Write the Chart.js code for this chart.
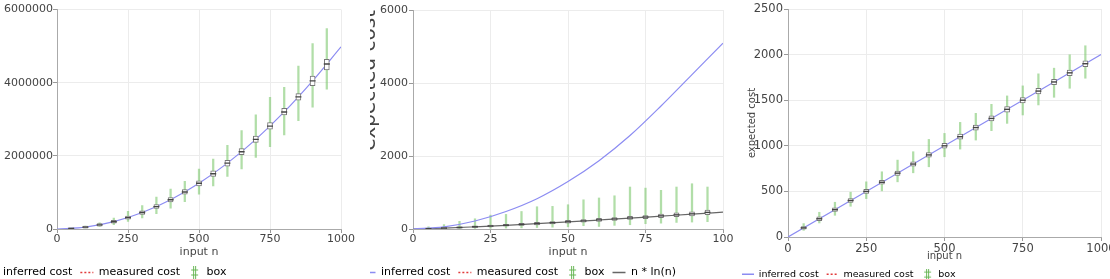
<!DOCTYPE html>
<html>
<head>
<meta charset="utf-8">
<script src="https://cdn.jsdelivr.net/npm/chart.js@4/dist/chart.umd.min.js"></script>
<style>
  html, body { margin: 0; padding: 0; background: #fff; overflow: hidden; }
  body { position: relative; width: 1110px; height: 279px; }
  .clip { position: absolute; top: 0; width: 370px; height: 279px; overflow: hidden; }
  canvas { position: absolute; top: 0; }
</style>
</head>
<body>
<div class="clip" style="left:0"><canvas id="chart1" width="395" height="288" style="left:-25px"></canvas></div>
<div class="clip" style="left:370px"><canvas id="chart2" width="390" height="288" style="left:-20px"></canvas></div>
<div class="clip" style="left:740px"><canvas id="chart3" width="390" height="289" style="left:-6px"></canvas></div>
<script>
// ---- panel 1: quadratic cost, n up to 1000 ----
const n1 = [50, 100, 150, 200, 250, 300, 350, 400, 450, 500, 550, 600, 650, 700, 750, 800, 850, 900, 950];
const median1 = [12000, 50000, 112000, 200000, 312000, 450000, 612000, 800000, 1012000, 1250000, 1512000, 1800000, 2112000, 2450000, 2812000, 3200000, 3612000, 4050000, 4510000];
const boxLow1 = [0, 20000, 80000, 160000, 270000, 400000, 560000, 740000, 950000, 1180000, 1440000, 1720000, 2030000, 2370000, 2730000, 3120000, 3520000, 3920000, 4350000];
const boxHigh1 = [30000, 80000, 150000, 240000, 350000, 500000, 670000, 860000, 1080000, 1320000, 1590000, 1880000, 2200000, 2540000, 2910000, 3300000, 3700000, 4180000, 4640000];
const whiskLow1 = [5000, 30000, 70000, 120000, 210000, 300000, 420000, 570000, 750000, 950000, 1180000, 1440000, 1640000, 1960000, 2250000, 2570000, 2960000, 3330000, 3820000];
const whiskHigh1 = [25000, 80000, 170000, 300000, 480000, 640000, 870000, 1090000, 1300000, 1640000, 1910000, 2290000, 2690000, 3120000, 3600000, 3870000, 4450000, 5070000, 5480000];
const curveN1 = [0, 100, 200, 300, 400, 500, 600, 700, 800, 900, 1000];
const inferred1 = [0, 50000, 200000, 450000, 800000, 1250000, 1800000, 2450000, 3200000, 4050000, 4980000];
const xTicks1 = [0, 250, 500, 750, 1000];
const yTicks1 = [0, 2000000, 4000000, 6000000];

// ---- panel 2: n up to 100, against n * ln(n) ----
const n2 = [5, 10, 15, 20, 25, 30, 35, 40, 45, 50, 55, 60, 65, 70, 75, 80, 85, 90, 95];
const median2 = [10, 25, 42, 62, 82, 103, 125, 148, 172, 198, 222, 250, 275, 302, 328, 360, 388, 415, 455];
const boxLow2 = [0, 10, 25, 40, 55, 75, 95, 115, 140, 160, 185, 210, 235, 260, 285, 310, 335, 360, 390];
const boxHigh2 = [20, 40, 60, 85, 110, 130, 155, 180, 205, 235, 260, 290, 315, 345, 370, 410, 440, 470, 520];
const whiskLow2 = [0, 5, 10, 15, 20, 25, 30, 40, 50, 60, 90, 70, 100, 117, 145, 160, 180, 190, 200];
const whiskHigh2 = [60, 120, 210, 280, 380, 400, 480, 610, 620, 665, 800, 850, 910, 1150, 1120, 1060, 1150, 1240, 1150];
const curveN2 = [0, 10, 20, 30, 40, 50, 60, 70, 80, 90, 100];
const inferred2 = [0, 60, 220, 480, 830, 1300, 1870, 2560, 3370, 4230, 5090];
const nlogn2 = [0, 23, 60, 102, 148, 196, 246, 297, 351, 405, 461];
const xTicks2 = [0, 25, 50, 75, 100];
const yTicks2 = [0, 2000, 4000, 6000];

// ---- panel 3: linear cost, n up to 1000 ----
const n3 = [50, 100, 150, 200, 250, 300, 350, 400, 450, 500, 550, 600, 650, 700, 750, 800, 850, 900, 950];
const median3 = [100, 200, 300, 400, 500, 600, 700, 800, 900, 1000, 1100, 1200, 1300, 1400, 1500, 1600, 1700, 1800, 1900];
const boxLow3 = [85, 180, 280, 380, 478, 578, 676, 776, 874, 974, 1072, 1172, 1272, 1370, 1470, 1570, 1670, 1770, 1868];
const boxHigh3 = [115, 220, 320, 420, 522, 622, 724, 824, 926, 1026, 1128, 1228, 1328, 1430, 1530, 1630, 1730, 1830, 1932];
const whiskLow3 = [73, 154, 238, 337, 421, 506, 605, 704, 770, 880, 964, 1063, 1166, 1246, 1338, 1448, 1532, 1631, 1741];
const whiskHigh3 = [147, 271, 381, 491, 605, 715, 843, 935, 1070, 1136, 1257, 1356, 1455, 1547, 1657, 1789, 1851, 1998, 2097];
const curveN3 = [0, 500, 1000];
const inferred3 = [0, 1000, 2000];
const xTicks3 = [0, 250, 500, 750, 1000];
const yTicks3 = [0, 500, 1000, 1500, 2000, 2500];

const FONT = 'DejaVu Sans';
const BLUE = '#8c8cf2';
const RED = '#e23b3b';
const GREEN = 'rgba(125,200,110,0.6)';
const GREY = '#666';

function pairs(xs, ys) {
    return xs.map((x, i) => ({ x: x, y: ys[i] }));
}

function ranges(xs, lo, hi) {
    return xs.map((x, i) => ({ x: x, y: [lo[i], hi[i]] }));
}

// little green glyph used by the "box" legend entry
function boxGlyph(h) {
    const c = document.createElement('canvas');
    c.width = 9;
    c.height = h;
    const g = c.getContext('2d');
    g.strokeStyle = 'rgba(100,180,80,0.95)';
    g.lineWidth = 1;
    g.beginPath();
    g.moveTo(3.5, 0); g.lineTo(3.5, h);
    g.moveTo(5.5, 0); g.lineTo(5.5, h);
    g.moveTo(1, h / 2 - 2.5); g.lineTo(8, h / 2 - 2.5);
    g.moveTo(1, h / 2 + 2.5); g.lineTo(8, h / 2 + 2.5);
    g.stroke();
    return c;
}

function legendItems(withNlogn, glyphH) {
    const items = [
        { text: 'inferred cost', pointStyle: 'line', strokeStyle: BLUE, fillStyle: BLUE, lineWidth: 1.3, lineDash: [] },
        { text: 'measured cost', pointStyle: 'line', strokeStyle: RED, fillStyle: RED, lineWidth: 1.5, lineDash: [2, 2] },
        { text: 'box', pointStyle: boxGlyph(glyphH), strokeStyle: GREEN, fillStyle: GREEN, lineWidth: 1, lineDash: [] }
    ];
    if (withNlogn) {
        items.push({ text: 'n * ln(n)', pointStyle: 'line', strokeStyle: GREY, fillStyle: GREY, lineWidth: 1.3, lineDash: [] });
    }
    return items.map(it => Object.assign({ hidden: false, datasetIndex: 0 }, it));
}

// Function to build one panel
function createPanel(canvasId, p) {
    const datasets = [
        { type: 'scatter', data: pairs(p.n, p.median), pointStyle: 'line', pointRadius: p.boxW / 2 + 0.5,
          pointBorderColor: '#444', pointBorderWidth: 1.4, showLine: false, order: 0 },
        { type: 'bar', data: ranges(p.n, p.boxLow, p.boxHigh), backgroundColor: '#fff', borderColor: '#777',
          borderWidth: 1, borderSkipped: false, barThickness: p.boxW, grouped: false, order: 1 },
        { type: 'line', data: pairs(p.curveN, p.inferred), borderColor: BLUE, borderWidth: 1.2,
          pointRadius: 0, cubicInterpolationMode: 'monotone', order: 2 },
        { type: 'line', data: [], borderColor: RED, borderDash: [2, 2], borderWidth: 1.5, pointRadius: 0, order: 3 },
        { type: 'bar', data: ranges(p.n, p.whiskLow, p.whiskHigh), backgroundColor: GREEN,
          barThickness: 1.6, grouped: false, order: 5 }
    ];
    if (p.nlogn) {
        datasets.push({ type: 'line', data: pairs(p.curveN, p.nlogn), borderColor: GREY, borderWidth: 1.2,
            pointRadius: 0, cubicInterpolationMode: 'monotone', order: 4 });
    }

    new Chart(document.getElementById(canvasId), {
        type: 'bar',
        data: { datasets: datasets },
        options: {
            responsive: false,
            animation: false,
            events: [],
            layout: { padding: p.pad },
            plugins: {
                tooltip: { enabled: false },
                legend: {
                    position: 'bottom',
                    align: 'start',
                    labels: {
                        usePointStyle: true,
                        pointStyleWidth: p.legendBox,
                        padding: 8,
                        color: '#333',
                        font: { family: FONT, size: p.legendSize },
                        generateLabels: () => legendItems(!!p.nlogn, p.legendSize + 2)
                    }
                }
            },
            scales: {
                x: {
                    type: 'linear',
                    offset: false,
                    min: p.xTicks[0],
                    max: p.xTicks[p.xTicks.length - 1],
                    afterBuildTicks: s => { s.ticks = p.xTicks.map(v => ({ value: v })); },
                    afterFit: s => { s.height = p.xAxisH; },
                    grid: { offset: false, color: '#ececec', tickColor: '#999', tickLength: 4 },
                    border: { color: '#aaa' },
                    ticks: { color: '#444', padding: p.xTickPad, maxRotation: 0, font: { family: FONT, size: p.tickSize },
                             callback: v => String(v) },
                    title: { display: true, text: 'input n', color: '#444', padding: { top: 0, bottom: p.xTitlePad },
                             font: { family: FONT, size: p.titleSize } }
                },
                y: {
                    type: 'linear',
                    min: p.yTicks[0],
                    max: p.yTicks[p.yTicks.length - 1],
                    afterBuildTicks: s => { s.ticks = p.yTicks.map(v => ({ value: v })); },
                    afterFit: s => { s.width = p.yAxisW; },
                    grid: { color: '#ececec', tickColor: '#999', tickLength: 4 },
                    border: { color: '#aaa' },
                    ticks: { color: '#444', padding: p.yTickPad, font: { family: FONT, size: p.tickSize },
                             callback: v => String(v) },
                    title: { display: true, text: 'expected cost', color: '#444', align: p.yTitleAlign,
                             padding: { top: p.yTitlePad, bottom: 0 },
                             font: { family: FONT, size: p.yTitleSize } }
                }
            }
        }
    });
}

createPanel('chart1', {
    n: n1, median: median1, boxLow: boxLow1, boxHigh: boxHigh1, whiskLow: whiskLow1, whiskHigh: whiskHigh1,
    curveN: curveN1, inferred: inferred1, xTicks: xTicks1, yTicks: yTicks1,
    pad: { left: 1.5, right: 29, top: 9.5, bottom: 0 }, yAxisW: 80.5, xAxisH: 30, boxW: 5,
    tickSize: 11, titleSize: 11, yTitleSize: 11, legendSize: 11, legendBox: 13,
    xTickPad: 0, yTickPad: 0, xTitlePad: 0, yTitlePad: 10, yTitleAlign: 'center'
});

createPanel('chart2', {
    n: n2, median: median2, boxLow: boxLow2, boxHigh: boxHigh2, whiskLow: whiskLow2, whiskHigh: whiskHigh2,
    curveN: curveN2, inferred: inferred2, nlogn: nlogn2, xTicks: xTicks2, yTicks: yTicks2,
    pad: { left: 4.5, right: 17, top: 10, bottom: 0 }, yAxisW: 58.5, xAxisH: 30, boxW: 5,
    tickSize: 11, titleSize: 11, yTitleSize: 20, legendSize: 11, legendBox: 13,
    xTickPad: 0, yTickPad: 1, xTitlePad: 0, yTitlePad: 3, yTitleAlign: 'end'
});

createPanel('chart3', {
    n: n3, median: median3, boxLow: boxLow3, boxHigh: boxHigh3, whiskLow: whiskLow3, whiskHigh: whiskHigh3,
    curveN: curveN3, inferred: inferred3, xTicks: xTicks3, yTicks: yTicks3,
    pad: { left: 0, right: 23, top: 9, bottom: 0 }, yAxisW: 54, xAxisH: 24.5, boxW: 5,
    tickSize: 11.5, titleSize: 10, yTitleSize: 10, legendSize: 9.5, legendBox: 12,
    xTickPad: 1, yTickPad: 1, xTitlePad: -1, yTitlePad: 12, yTitleAlign: 'center'
});
</script>
</body>
</html>
